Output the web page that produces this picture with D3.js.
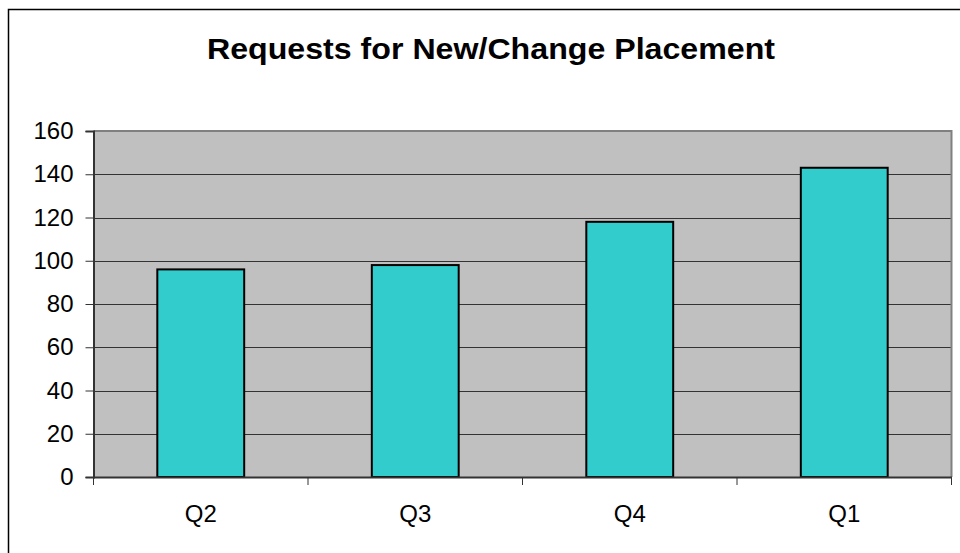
<!DOCTYPE html>
<html>
<head>
<meta charset="utf-8">
<script src="https://cdn.jsdelivr.net/npm/d3@7"></script>
<style>
  body { margin: 0; background: #fff; }
  svg { display: block; font-family: "Liberation Sans", Arial, sans-serif; }
</style>
</head>
<body>
<div class="svgWrapper"></div>
<script>
// Data //
const quarters = ["Q2", "Q3", "Q4", "Q1"];
const requests = [96, 98, 118, 143];
const yTicks = [0, 20, 40, 60, 80, 100, 120, 140, 160];

// Styles //
const svgStyles = { w: 960, h: 553 };
const plot = { left: 93.5, top: 131, right: 951.5, bottom: 477 };

const svg = d3
  .select(".svgWrapper")
  .append("svg")
  .attr("width", svgStyles.w)
  .attr("height", svgStyles.h);

// outer chart border (runs off the picture at right and bottom)
svg
  .append("rect")
  .attr("x", 8.5)
  .attr("y", 9.5)
  .attr("width", 1000)
  .attr("height", 1000)
  .attr("fill", "#fff")
  .attr("stroke", "#000")
  .attr("stroke-width", 1.5);

// title
svg
  .append("text")
  .attr("x", 491)
  .attr("y", 59)
  .attr("text-anchor", "middle")
  .attr("textLength", 568)
  .attr("lengthAdjust", "spacingAndGlyphs")
  .style("font-size", "30px")
  .style("font-weight", "bold")
  .text("Requests for New/Change Placement");

const xScale = d3
  .scaleBand()
  .domain(quarters)
  .range([plot.left, plot.right]);

const yScale = d3
  .scaleLinear()
  .domain([0, 160])
  .range([plot.bottom, plot.top]);

// plot background
svg
  .append("rect")
  .attr("x", plot.left)
  .attr("y", plot.top)
  .attr("width", plot.right - plot.left)
  .attr("height", plot.bottom - plot.top)
  .attr("fill", "#c0c0c0");

// gridlines
svg
  .append("g")
  .selectAll("line")
  .data(yTicks.slice(1, -1))
  .enter()
  .append("line")
  .attr("x1", plot.left)
  .attr("x2", plot.right)
  .attr("y1", d => Math.round(yScale(d)) + 0.5)
  .attr("y2", d => Math.round(yScale(d)) + 0.5)
  .attr("stroke", "#333")
  .attr("stroke-width", 1);

// plot frame top/right
svg
  .append("path")
  .attr("d", `M${plot.left},${plot.top} H${plot.right} V${plot.bottom}`)
  .attr("fill", "none")
  .attr("stroke", "#808080")
  .attr("stroke-width", 2);

// bars
const barW = xScale.bandwidth() * 0.405;
svg
  .append("g")
  .selectAll("rect")
  .data(quarters)
  .enter()
  .append("rect")
  .attr("x", d => xScale(d) + (xScale.bandwidth() - barW) / 2)
  .attr("y", (d, i) => yScale(requests[i]))
  .attr("width", barW)
  .attr("height", (d, i) => plot.bottom - yScale(requests[i]))
  .attr("fill", "#33cccc")
  .attr("stroke", "#000")
  .attr("stroke-width", 2);

// Y axis
const yAxis = d3
  .axisLeft(yScale)
  .tickValues(yTicks)
  .tickSize(8)
  .tickPadding(12);

const yG = svg
  .append("g")
  .attr("transform", `translate(${plot.left}, 0)`)
  .call(yAxis);
yG.select(".domain").attr("stroke", "#333").attr("stroke-width", 2);
yG.selectAll(".tick line").attr("stroke", "#333");
yG.selectAll("text")
  .style("font-size", "24px")
  .attr("fill", "#000")
  .attr("font-family", "Liberation Sans, Arial, sans-serif");

// X axis
const xAxis = d3.axisBottom(xScale).tickSize(0).tickPadding(28);
const xG = svg
  .append("g")
  .attr("transform", `translate(0, ${plot.bottom})`)
  .call(xAxis);
xG.select(".domain").attr("stroke", "#333").attr("stroke-width", 2);
xG.selectAll("text")
  .style("font-size", "24px")
  .attr("fill", "#000")
  .attr("font-family", "Liberation Sans, Arial, sans-serif");

// tick marks at category boundaries
xG.selectAll(".sep")
  .data(quarters.concat(["end"]))
  .enter()
  .append("line")
  .attr("class", "sep")
  .attr("x1", (d, i) => plot.left + i * xScale.step())
  .attr("x2", (d, i) => plot.left + i * xScale.step())
  .attr("y1", 0)
  .attr("y2", 8)
  .attr("stroke", "#333");
</script>
</body>
</html>
